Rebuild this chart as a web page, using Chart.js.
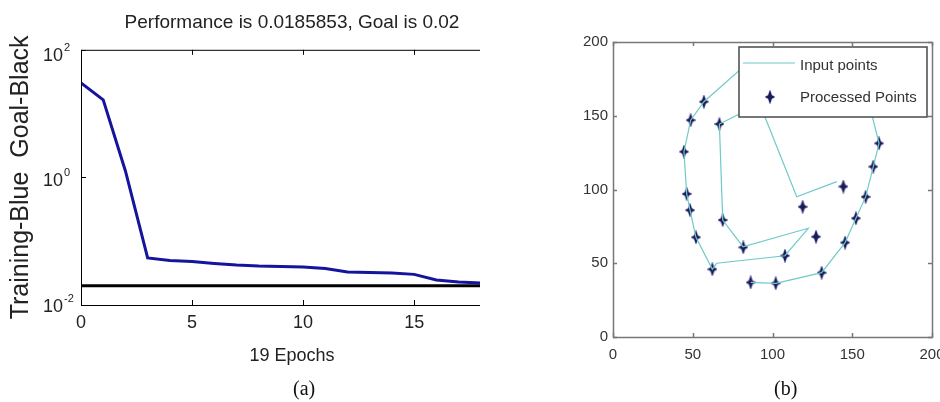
<!DOCTYPE html>
<html>
<head>
<meta charset="utf-8">
<script src="https://cdn.jsdelivr.net/npm/chart.js@4.4.1/dist/chart.umd.min.js"></script>
<style>
  html, body { margin: 0; padding: 0; background: #fff; }
  body { width: 940px; height: 402px; position: relative; overflow: hidden; }
  #wrapA { position: absolute; left: 0; top: 0; width: 480px; height: 402px; overflow: hidden; }
  #wrapB { position: absolute; left: 480px; top: 0; width: 460px; height: 402px; }
  .cap { position: absolute; font-family: 'Liberation Serif', 'Times New Roman', serif; font-size: 20px; line-height: 1; color: #111; }
</style>
</head>
<body>
<div id="wrapA"><canvas id="perf" width="520" height="402"></canvas></div>
<div id="wrapB"><canvas id="pts" width="460" height="402"></canvas></div>
<div class="cap" style="left:293px; top:378px;">(a)</div>
<div class="cap" style="left:774px; top:378px;">(b)</div>
<script>
// --- (a) training performance ---
const epochs = [0, 1, 2, 3, 4, 5, 6, 7, 8, 9, 10, 11, 12, 13, 14, 15, 16, 17, 18, 19];
const trainPerf = [30.2, 16.4, 1.26, 0.0546, 0.0499, 0.048, 0.0448, 0.0424, 0.0409, 0.0402,
                   0.0394, 0.0374, 0.033, 0.0324, 0.0318, 0.0302, 0.0247, 0.023, 0.0221, 0.0186];
const goalEpochs = [0, 19];
const goalPerf = [0.02, 0.02];
const epochTicks = [0, 5, 10, 15];
const perfTicks = [0.01, 1, 100];

// --- (b) input vs processed points ---
const inputX = [86.3, 102, 130.8, 145.5, 152.3, 158.4, 163.2, 166.8, 162, 150, 92,
                57, 48.7, 44.5, 46.2, 48.3, 52, 62.3, 65, 107.8, 122.4, 81.5, 68.8, 66.7, 92, 115.2, 140.3];
const inputY = [37, 36.4, 43.6, 64, 80.5, 95, 115.5, 131.3, 152, 180, 193,
                159.5, 147, 125.6, 97, 86, 67.6, 45.9, 50, 55.1, 73.7, 61.2, 79.3, 144.4, 158, 95.1, 105.3];
const procX = [57, 48.7, 44.5, 46.2, 48.3, 52, 62.3, 86.3, 102, 130.8, 145.5,
               152.3, 158.4, 163.2, 166.8, 66.7, 68.8, 81.7, 107.8, 127.3, 118.9, 144.4];
const procY = [159.5, 147, 125.6, 97, 86, 67.6, 45.9, 37, 36.4, 43.6, 64,
               80.5, 95, 115.5, 131.3, 144.4, 79.3, 60.8, 55.1, 68, 88.3, 102];
const coordTicks = [0, 50, 100, 150, 200];

const toXY = (xs, ys) => xs.map((x, i) => ({ x: x, y: ys[i] }));

Chart.defaults.font.family = '"Liberation Sans", Arial, sans-serif';
Chart.defaults.color = '#222';

// 4-pointed star marker like the matlab plot
function starMarker(w, h) {
    const c = document.createElement('canvas');
    c.width = w; c.height = h;
    const g = c.getContext('2d');
    const mx = w / 2, my = h / 2, k = 1.8;
    const path = () => {
        g.beginPath();
        g.moveTo(mx, 0); g.lineTo(mx + k, my - k); g.lineTo(w, my); g.lineTo(mx + k, my + k);
        g.lineTo(mx, h); g.lineTo(mx - k, my + k); g.lineTo(0, my); g.lineTo(mx - k, my - k);
        g.closePath();
    };
    g.strokeStyle = 'rgba(90,100,200,0.4)';
    g.lineWidth = 1.2;
    path(); g.stroke();
    g.fillStyle = '#1b1b55';
    path(); g.fill();
    return c;
}
const marker = starMarker(10, 14);

// box + inward ticks
const matlabAxes = {
    id: 'matlabAxes',
    afterDraw(chart, args, o) {
        const { ctx, chartArea: a, scales } = chart;
        ctx.save();
        ctx.strokeStyle = o.color;
        ctx.lineWidth = o.width;
        ctx.strokeRect(a.left + 0.5, a.top + 0.5, a.right - a.left, a.bottom - a.top);
        ctx.beginPath();
        scales.x.ticks.forEach(t => {
            const px = Math.round(scales.x.getPixelForValue(t.value)) + 0.5;
            ctx.moveTo(px, a.bottom); ctx.lineTo(px, a.bottom - o.tick);
            ctx.moveTo(px, a.top); ctx.lineTo(px, a.top + o.tick);
        });
        scales.y.ticks.forEach(t => {
            const py = Math.round(scales.y.getPixelForValue(t.value)) + 0.5;
            ctx.moveTo(a.left, py); ctx.lineTo(a.left + o.tick, py);
            ctx.moveTo(a.right, py); ctx.lineTo(a.right - o.tick, py);
        });
        ctx.stroke();

        if (o.logLabels) {
            ctx.fillStyle = '#222';
            ctx.textAlign = 'left';
            ctx.textBaseline = 'middle';
            scales.y.ticks.forEach((t, i) => {
                const py = scales.y.getPixelForValue(t.value) + 2 + i * 2;
                const x0 = a.left - 38;
                ctx.font = '18px "Liberation Sans", Arial, sans-serif';
                ctx.fillText('10', x0, py);
                const w = ctx.measureText('10').width;
                ctx.font = '11px "Liberation Sans", Arial, sans-serif';
                ctx.fillText(String(Math.round(Math.log10(t.value))), x0 + w + 1, py - 8);
            });
        }
        ctx.restore();
    }
};

// legend box drawn inside the axes, top right
const boxLegend = {
    id: 'boxLegend',
    afterDraw(chart, args, o) {
        if (!o.show) return;
        const { ctx, chartArea: a } = chart;
        const ds = chart.data.datasets;
        const x = a.right - 5 - o.width, y = a.top + 5;
        ctx.save();
        ctx.fillStyle = '#fff';
        ctx.fillRect(x, y, o.width, o.height);
        ctx.strokeStyle = '#4a4a4a';
        ctx.lineWidth = 1.5;
        ctx.strokeRect(x, y, o.width, o.height);
        ctx.strokeStyle = ds[0].borderColor;
        ctx.lineWidth = ds[0].borderWidth;
        ctx.beginPath(); ctx.moveTo(x + 4, y + 16); ctx.lineTo(x + 56, y + 16); ctx.stroke();
        ctx.drawImage(marker, x + 31 - marker.width / 2, y + 50 - marker.height / 2);
        ctx.fillStyle = '#333';
        ctx.font = '15px "Liberation Sans", Arial, sans-serif';
        ctx.textBaseline = 'middle';
        ctx.fillText(ds[0].label, x + 61, y + 19);
        ctx.fillText(ds[1].label, x + 61, y + 51);
        ctx.restore();
    }
};

new Chart(document.getElementById('perf'), {
    type: 'scatter',
    data: {
        datasets: [
            {
                label: 'Training',
                data: toXY(epochs, trainPerf),
                showLine: true,
                borderColor: '#14149c',
                borderWidth: 3,
                pointRadius: 0,
                tension: 0
            },
            {
                label: 'Goal',
                data: toXY(goalEpochs, goalPerf),
                showLine: true,
                borderColor: '#000',
                borderWidth: 3,
                pointRadius: 0
            }
        ]
    },
    options: {
        responsive: false,
        animation: false,
        layout: { autoPadding: false, padding: { left: 0, right: 17, top: 0, bottom: 0 } },
        plugins: {
            legend: { display: false },
            tooltip: { enabled: false },
            title: {
                display: true,
                fullSize: false,
                text: 'Performance is 0.0185853, Goal is 0.02',
                color: '#222',
                font: { size: 19, weight: 'normal' },
                padding: { top: 11, bottom: 16 }
            },
            matlabAxes: { color: '#000', width: 1, tick: 5, logLabels: true },
            boxLegend: { show: false }
        },
        scales: {
            x: {
                type: 'linear', min: 0, max: 19,
                afterBuildTicks: s => { s.ticks = epochTicks.map(v => ({ value: v })); },
                afterFit: s => { s.height = 97; s.paddingLeft = 0; s.paddingRight = 0; },
                grid: { display: false, drawTicks: false },
                border: { display: false },
                ticks: { font: { size: 18 }, color: '#222', padding: 7, maxRotation: 0, autoSkip: false },
                title: { display: true, text: '19 Epochs', color: '#222', font: { size: 18 }, padding: { top: 0, bottom: 35 } }
            },
            y: {
                type: 'logarithmic', min: 0.01, max: 100,
                afterBuildTicks: s => { s.ticks = perfTicks.map(v => ({ value: v })); },
                afterFit: s => { s.width = 81; },
                grid: { display: false, drawTicks: false },
                border: { display: false },
                ticks: { display: false },
                title: { display: true, text: 'Training-Blue  Goal-Black', color: '#222', font: { size: 25 }, padding: { top: 6, bottom: 0 } }
            }
        }
    },
    plugins: [matlabAxes, boxLegend]
});

new Chart(document.getElementById('pts'), {
    type: 'scatter',
    data: {
        datasets: [
            {
                label: 'Input points',
                data: toXY(inputX, inputY),
                showLine: true,
                borderColor: '#6fcaca',
                borderWidth: 1.2,
                pointRadius: 0
            },
            {
                label: 'Processed Points',
                data: toXY(procX, procY),
                showLine: false,
                pointStyle: marker,
                pointRadius: 7
            }
        ]
    },
    options: {
        responsive: false,
        animation: false,
        layout: { autoPadding: false, padding: { left: 0, right: 8, top: 42, bottom: 0 } },
        plugins: {
            legend: { display: false },
            tooltip: { enabled: false },
            matlabAxes: { color: '#777', width: 1.5, tick: 4, logLabels: false },
            boxLegend: { show: true, width: 188, height: 70 }
        },
        scales: {
            x: {
                type: 'linear', min: 0, max: 200,
                afterBuildTicks: s => { s.ticks = coordTicks.map(v => ({ value: v })); },
                afterFit: s => { s.height = 65; s.paddingLeft = 0; s.paddingRight = 0; },
                grid: { display: false, drawTicks: false },
                border: { display: false },
                ticks: { font: { size: 15 }, color: '#333', padding: 9, maxRotation: 0, autoSkip: false }
            },
            y: {
                type: 'linear', min: 0, max: 200,
                afterBuildTicks: s => { s.ticks = coordTicks.map(v => ({ value: v })); },
                afterFit: s => { s.width = 133; s.paddingTop = 0; s.paddingBottom = 0; },
                grid: { display: false, drawTicks: false },
                border: { display: false },
                ticks: { font: { size: 15 }, color: '#333', padding: 5, autoSkip: false }
            }
        }
    },
    plugins: [matlabAxes, boxLegend]
});
</script>
</body>
</html>
